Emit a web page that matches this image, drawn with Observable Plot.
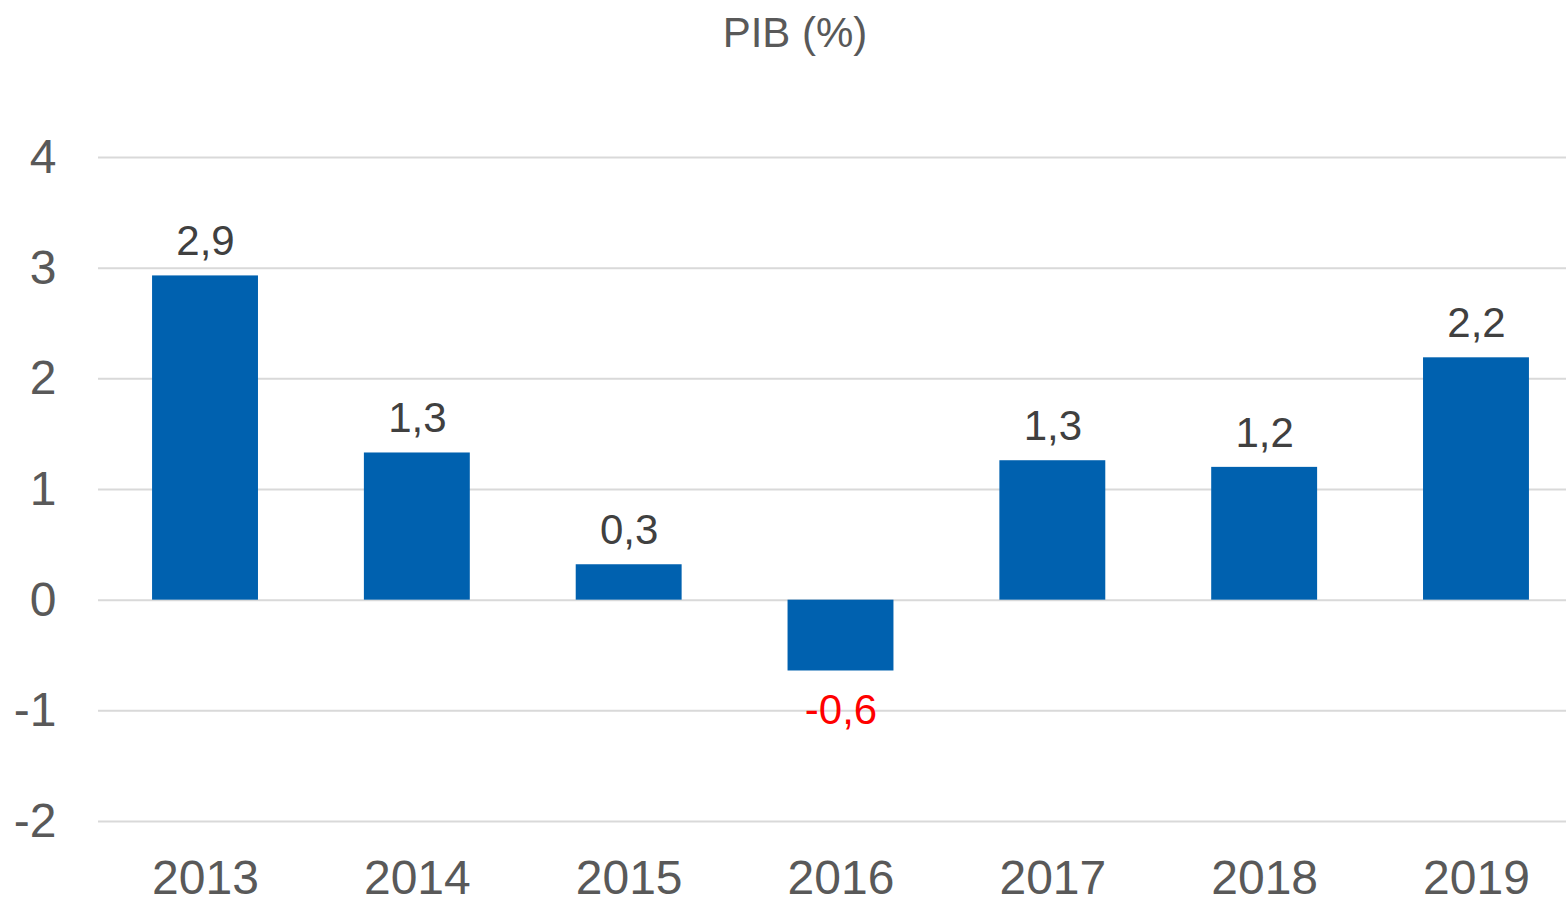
<!DOCTYPE html>
<html>
<head>
<meta charset="utf-8">
<script src="https://cdn.jsdelivr.net/npm/d3@7"></script>
<script src="https://cdn.jsdelivr.net/npm/@observablehq/plot@0.6"></script>
<style>
  html, body { margin: 0; padding: 0; background: #fff; }
  #title { height: 66px; line-height: 66px; text-align: center; font-family: "Liberation Sans", Arial, sans-serif; font-size: 42px; color: #595959; padding-left: 24px; }
  svg { display: block; overflow: visible; }
</style>
</head>
<body>
<div id="title">PIB (%)</div>
<div id="chart"></div>
<script>
const years = ["2013", "2014", "2015", "2016", "2017", "2018", "2019"];
const values = [2.93, 1.33, 0.32, -0.64, 1.26, 1.20, 2.19];
const labels = ["2,9", "1,3", "0,3", "-0,6", "1,3", "1,2", "2,2"];
const yTicks = [-2, -1, 0, 1, 2, 3, 4];

const data = years.map((year, i) => ({ year, value: values[i], label: labels[i] }));
const font = "'Liberation Sans', Arial, sans-serif";

const chart = Plot.plot({
  width: 1566,
  height: 832,
  marginTop: 91,
  marginBottom: 77,
  marginLeft: 98,
  marginRight: 0,
  style: { fontFamily: font, color: "#595959", background: "#fff", overflow: "visible" },
  x: { domain: years, range: [99.1, 1581.9], paddingInner: 0.5, paddingOuter: 0.25, round: false, label: null },
  y: { domain: [-2, 4], label: null },
  marks: [
    Plot.ruleY(yTicks, { stroke: "#d9d9d9", strokeWidth: 2 }),
    Plot.barY(data, { x: "year", y: "value", fill: "#0061AF" }),
    Plot.text(data.filter(d => d.value >= 0), { x: "year", y: "value", text: "label", dy: -34, fontSize: 42, fill: "#404040", lineAnchor: "middle" }),
    Plot.text(data.filter(d => d.value < 0), { x: "year", y: "value", text: "label", dy: 40, fontSize: 42, fill: "#FF0000", lineAnchor: "middle" }),
    Plot.axisY(yTicks, { tickSize: 0, tickPadding: 42, fontSize: 48, tickFormat: d => String(d), label: null }),
    Plot.axisX({ tickSize: 0, tickPadding: 38, fontSize: 48, label: null })
  ]
});
document.getElementById("chart").appendChild(chart);
</script>
</body>
</html>
